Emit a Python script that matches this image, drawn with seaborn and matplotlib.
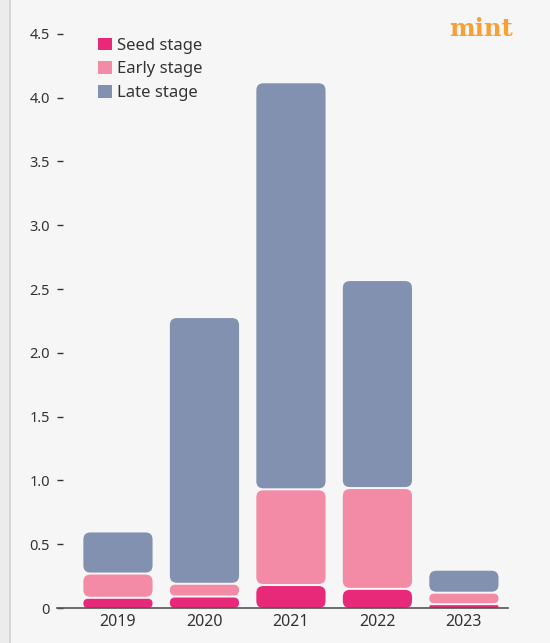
import numpy as np
import pandas as pd
import matplotlib.pyplot as plt
import seaborn as sns
from matplotlib.patches import FancyBboxPatch, Rectangle, Patch

# Funding by stage, $ billion
years = ['2019', '2020', '2021', '2022', '2023']
seed = [0.08, 0.09, 0.18, 0.15, 0.03]
early = [0.19, 0.10, 0.75, 0.79, 0.09]
late = [0.33, 2.09, 3.19, 1.63, 0.18]

stages = ['Seed stage', 'Early stage', 'Late stage']
colors = ['#e8297a', '#f38aa6', '#8391b0']
yticks = [0, 0.5, 1.0, 1.5, 2.0, 2.5, 3.0, 3.5, 4.0, 4.5]
ytick_labels = ['0', '0.5', '1.0', '1.5', '2.0', '2.5', '3.0', '3.5', '4.0', '4.5']

bg = '#f6f6f6'
text_col = '#333333'

sns.set_style('white')
plt.rcParams['font.family'] = ['Noto Sans', 'DejaVu Sans']

W, H = 550, 643
fig = plt.figure(figsize=(W / 100, H / 100), dpi=100, facecolor=bg)
ax_l, ax_r, ax_b, ax_t = 57, 508, 608, 10
ax = fig.add_axes([ax_l / W, (H - ax_b) / H, (ax_r - ax_l) / W, (ax_b - ax_t) / H])
ax.set_facecolor(bg)

xlim = (-0.705, 4.51)
ylim = (0, (ax_b - ax_t) / 127.6)

df = pd.DataFrame({'year': years, 'seed': seed, 'early': early, 'late': late})
bottoms = [np.zeros(len(years)), np.array(seed), np.array(seed) + np.array(early)]
for col, c, b in zip(['seed', 'early', 'late'], colors, bottoms):
    sns.barplot(data=df, x='year', y=col, color=c, bottom=b, width=0.8,
                saturation=1, ax=ax, linewidth=0)

ax.set_xlim(*xlim)
ax.set_ylim(*ylim)

# replace plain bars with rounded ones
px_x = (ax_r - ax_l) / (xlim[1] - xlim[0])
px_y = (ax_b - ax_t) / (ylim[1] - ylim[0])
gap = 2 / px_y
rects = [p for p in ax.patches if isinstance(p, Rectangle)]
for p in rects:
    x, y, w, h = p.get_x(), p.get_y(), p.get_width(), p.get_height()
    if y > 0:
        y += gap / 2
        h -= gap / 2
    h -= gap / 2
    r_px = min(7, h * px_y / 2)
    fb = FancyBboxPatch((x, y), w, h,
                        boxstyle=f'round,pad=0,rounding_size={r_px / px_x}',
                        mutation_aspect=px_x / px_y,
                        facecolor=p.get_facecolor(), edgecolor='none', zorder=2)
    p.remove()
    ax.add_patch(fb)

ax.set_yticks(yticks)
ax.set_yticklabels(ytick_labels)
ax.set_xlabel('')
ax.set_ylabel('')
for s in ['left', 'right', 'top']:
    ax.spines[s].set_visible(False)
ax.spines['bottom'].set_color('#555555')
ax.spines['bottom'].set_linewidth(1.2)
ax.spines['bottom'].set_zorder(3)
ax.tick_params(axis='y', left=True, direction='in', length=4, width=1,
               color=text_col, pad=5, labelsize=10.5, labelcolor=text_col)
ax.tick_params(axis='x', bottom=False, length=0, pad=4, labelsize=11.5,
               labelcolor=text_col)

handles = [Patch(facecolor=c, edgecolor='none') for c in colors]
leg = ax.legend(handles, stages, loc='upper left', bbox_to_anchor=(0.077, 0.965),
                frameon=False, fontsize=12, handlelength=0.8, handleheight=0.8,
                handletextpad=0.3, labelspacing=0.45, borderaxespad=0)
for t in leg.get_texts():
    t.set_color(text_col)

fig.text(513 / W, 1 - 29 / H, 'mint', color='#f7a035', fontsize=17.5,
         fontweight='bold', family='DejaVu Serif', ha='right', va='center')

# left panel edge
fig.patches.append(Rectangle((0, 0), 9 / W, 1, transform=fig.transFigure,
                             facecolor='#ececec', edgecolor='none'))
fig.patches.append(Rectangle((9 / W, 0), 2 / W, 1, transform=fig.transFigure,
                             facecolor='#d6d6d6', edgecolor='none'))

fig.savefig('out.png', dpi=100, facecolor=bg)
